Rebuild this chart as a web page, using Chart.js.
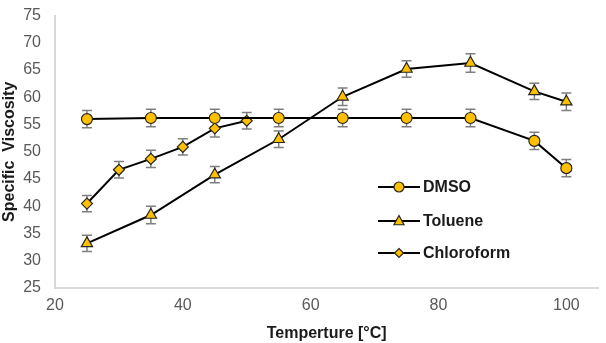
<!DOCTYPE html>
<html>
<head>
<meta charset="utf-8">
<script src="https://cdn.jsdelivr.net/npm/chart.js"></script>
<style>
  html, body { margin: 0; padding: 0; background: #fff; }
  #wrap { width: 606px; height: 343px; }
</style>
</head>
<body>
<div id="wrap"><canvas id="chart" width="606" height="343"></canvas></div>
<script>
// values
const temps = [25, 35, 45, 55, 65, 75, 85, 95, 100];
const dmso = [56, 56.2, 56.2, 56.2, 56.2, 56.2, 56.2, 52, 47];
const dmsoErr = [1.6, 1.6, 1.6, 1.6, 1.6, 1.6, 1.6, 1.6, 1.6];
const toluene = [33.2, 38.4, 45.8, 52.3, 60.1, 65.2, 66.3, 61.1, 59.2];
const tolueneErr = [1.5, 1.6, 1.5, 1.5, 1.6, 1.5, 1.7, 1.5, 1.6];
const chloroTemps = [25, 30, 35, 40, 45, 50];
const chloroform = [40.5, 46.7, 48.7, 50.9, 54.3, 55.7];
const chloroErr = [1.5, 1.5, 1.6, 1.5, 1.6, 1.5];
const xTicks = [20, 40, 60, 80, 100];
const seriesNames = ["DMSO", "Toluene", "Chloroform"];

const FONT = "'Liberation Sans', Arial, sans-serif";
const YELLOW = "#FFC000";
const EDGE = "#262626";

function pts(xs, ys) {
    return xs.map((x, i) => ({ x: x, y: ys[i] }));
}

// grey error bars, drawn under the markers
const errorBars = {
    id: "errorBars",
    beforeDatasetsDraw(chart) {
        const ctx = chart.ctx;
        const yScale = chart.scales.y;
        ctx.save();
        ctx.strokeStyle = "#7f7f7f";
        ctx.lineWidth = 1.5;
        chart.data.datasets.forEach((ds, di) => {
            const meta = chart.getDatasetMeta(di);
            meta.data.forEach((pt, i) => {
                const v = ds.data[i].y;
                const e = ds.errors[i];
                const top = yScale.getPixelForValue(v + e);
                const bot = yScale.getPixelForValue(v - e);
                ctx.beginPath();
                ctx.moveTo(pt.x, top); ctx.lineTo(pt.x, bot);
                ctx.moveTo(pt.x - 5, top); ctx.lineTo(pt.x + 5, top);
                ctx.moveTo(pt.x - 5, bot); ctx.lineTo(pt.x + 5, bot);
                ctx.stroke();
            });
        });
        ctx.restore();
    }
};

function marker(ctx, style, x, y, r) {
    ctx.beginPath();
    if (style === "circle") {
        ctx.arc(x, y, r, 0, Math.PI * 2);
    } else if (style === "triangle") {
        ctx.moveTo(x, y - r * 1.1);
        ctx.lineTo(x + r, y + r * 0.75);
        ctx.lineTo(x - r, y + r * 0.75);
        ctx.closePath();
    } else {
        ctx.moveTo(x, y - r); ctx.lineTo(x + r, y);
        ctx.lineTo(x, y + r); ctx.lineTo(x - r, y);
        ctx.closePath();
    }
    ctx.fillStyle = YELLOW;
    ctx.fill();
    ctx.strokeStyle = EDGE;
    ctx.lineWidth = 1.2;
    ctx.stroke();
}

// legend inside the plot, line through the marker
const innerLegend = {
    id: "innerLegend",
    afterDraw(chart) {
        const ctx = chart.ctx;
        const styles = ["circle", "triangle", "rectRot"];
        const sizes = [5, 5, 4.5];
        const x0 = 378, x1 = 420;
        const rows = [187, 221, 253];
        ctx.save();
        rows.forEach((y, i) => {
            ctx.strokeStyle = "#000";
            ctx.lineWidth = 2;
            ctx.beginPath();
            ctx.moveTo(x0, y); ctx.lineTo(x1, y);
            ctx.stroke();
            marker(ctx, styles[i], (x0 + x1) / 2, y, sizes[i]);
            ctx.fillStyle = "#1a1a1a";
            ctx.font = "bold 16px " + FONT;
            ctx.textBaseline = "middle";
            ctx.fillText(seriesNames[i], 423, y + 1);
        });
        ctx.restore();
    }
};

function lineSet(label, data, errors, style, radius) {
    return {
        label: label,
        data: data,
        errors: errors,
        showLine: true,
        borderColor: "#000",
        borderWidth: 2,
        pointStyle: style,
        pointRadius: radius,
        pointBackgroundColor: YELLOW,
        pointBorderColor: EDGE,
        pointBorderWidth: 1.2,
        tension: 0
    };
}

new Chart(document.getElementById("chart"), {
    type: "scatter",
    data: {
        datasets: [
            lineSet(seriesNames[0], pts(temps, dmso), dmsoErr, "circle", 5.5),
            lineSet(seriesNames[1], pts(temps, toluene), tolueneErr, "triangle", 6.5),
            lineSet(seriesNames[2], pts(chloroTemps, chloroform), chloroErr, "rectRot", 5.5)
        ]
    },
    options: {
        responsive: false,
        animation: false,
        layout: { padding: { top: 8, right: 1, left: 0, bottom: 0 } },
        plugins: { legend: { display: false }, tooltip: { enabled: false } },
        scales: {
            x: {
                type: "linear",
                min: 20,
                max: 105,
                afterBuildTicks(axis) { axis.ticks = xTicks.map(v => ({ value: v })); },
                afterFit(axis) { axis.height = 55; },
                grid: { display: false, drawTicks: false },
                border: { display: true, color: "#d9d9d9", width: 2 },
                ticks: { color: "#595959", font: { family: FONT, size: 16 }, padding: 8, maxRotation: 0 },
                title: { display: true, text: "Temperture [°C]", color: "#1a1a1a", font: { family: FONT, size: 16, weight: "bold" }, padding: 0 }
            },
            y: {
                min: 25,
                max: 75,
                ticks: { stepSize: 5, color: "#595959", font: { family: FONT, size: 16 }, padding: 6 },
                afterFit(axis) { axis.width = 55; },
                grid: { display: false },
                border: { display: true, color: "#d9d9d9", width: 2 },
                title: { display: true, text: "Specific  Viscosity", color: "#1a1a1a", font: { family: FONT, size: 16, weight: "bold" }, padding: 0 }
            }
        }
    },
    plugins: [errorBars, innerLegend]
});
</script>
</body>
</html>
